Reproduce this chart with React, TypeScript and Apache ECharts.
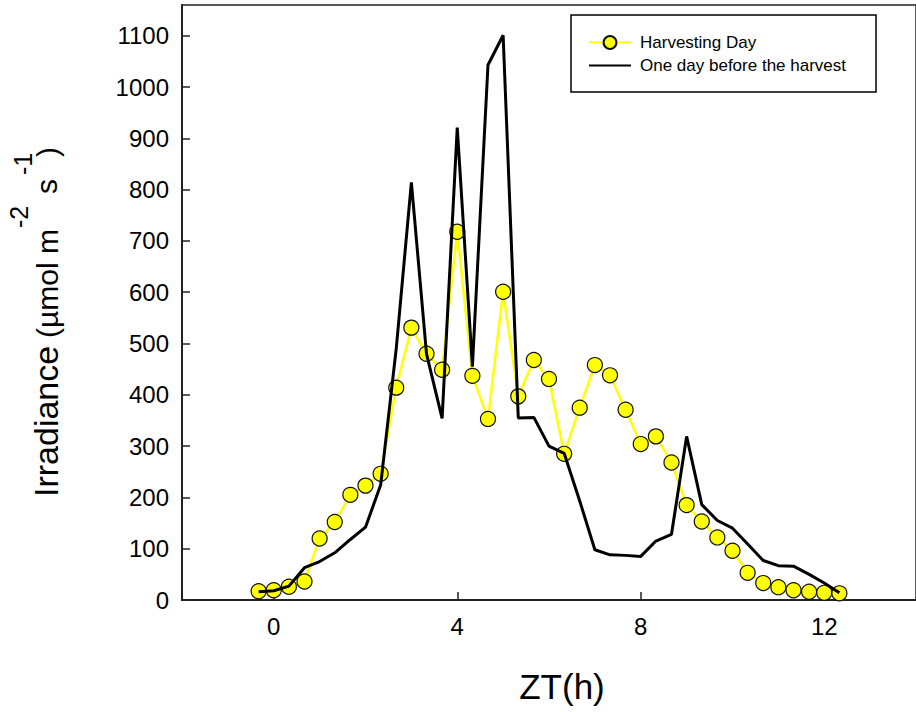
import React, { useEffect, useRef } from "react";
import * as echarts from "echarts";

const times = [
  -0.33, 0, 0.33, 0.67, 1, 1.33, 1.67, 2, 2.33, 2.67, 3, 3.33, 3.67, 4, 4.33,
  4.67, 5, 5.33, 5.67, 6, 6.33, 6.67, 7, 7.33, 7.67, 8, 8.33, 8.67, 9, 9.33,
  9.67, 10, 10.33, 10.67, 11, 11.33, 11.67, 12, 12.33,
];

const harvestingDay = [
  17, 19, 26, 36, 120, 152, 205, 223, 246, 414, 531, 480, 449, 718, 437, 353,
  601, 397, 468, 431, 285, 375, 458, 438, 371, 304, 319, 268, 185, 153, 122,
  96, 53, 33, 25, 19, 16, 14, 13,
];

const dayBefore = [
  16, 18, 27, 63, 75, 92, 118, 142, 224, 490, 814, 480, 354, 921, 455, 1043,
  1101, 355, 356, 300, 286, 193, 98, 88, 87, 85, 115, 128, 319, 186, 155, 140,
  109, 77, 67, 66, 50, 33, 14,
];

const xTicks = [0, 4, 8, 12];
const yTicks = [0, 100, 200, 300, 400, 500, 600, 700, 800, 900, 1000, 1100];

const seriesNames = ["Harvesting Day", "One day before the harvest"];

const FONT = '"Liberation Sans", Arial, Helvetica, sans-serif';

export default function App() {
  const ref = useRef<HTMLDivElement>(null);

  useEffect(() => {
    if (!ref.current) return;
    const chart = echarts.init(ref.current, undefined, { renderer: "svg" });

    const yTitle = [
      { text: "Irradiance", size: 34, x: 46, y: 497 },
      { text: "(\u00b5mol m", size: 30, x: 47.5, y: 338 },
      { text: "-2", size: 25, x: 18.5, y: 228 },
      { text: "s", size: 30, x: 46.5, y: 194 },
      { text: "-1", size: 25, x: 23, y: 175 },
      { text: ")", size: 30, x: 47.5, y: 157 },
    ];

    chart.setOption({
      animation: false,
      backgroundColor: "#ffffff",
      textStyle: { fontFamily: FONT },
      grid: {
        left: 182,
        top: 5,
        width: 736,
        height: 595,
        show: true,
        borderColor: "#222",
        borderWidth: 1.5,
        containLabel: false,
      },
      legend: {
        left: 571,
        top: 15,
        orient: "vertical",
        data: [
          { name: seriesNames[0] },
          {
            name: seriesNames[1],
            itemStyle: { opacity: 0, color: "rgba(0,0,0,0)", borderWidth: 0 },
          },
        ],
        itemWidth: 42,
        itemHeight: 16,
        itemGap: 6,
        padding: [19, 30, 18, 17],
        borderColor: "#000",
        borderWidth: 1.5,
        backgroundColor: "#fff",
        textStyle: {
          fontFamily: FONT,
          fontSize: 17,
          lineHeight: 17,
          color: "#000",
          padding: [0, 0, 0, 4],
        },
      },
      xAxis: {
        type: "value",
        min: -2,
        max: 14,
        axisLine: {
          show: true,
          onZero: false,
          lineStyle: { color: "#222", width: 2 },
        },
        axisTick: {
          show: true,
          inside: true,
          length: 8,
          customValues: xTicks,
          lineStyle: { color: "#222", width: 1.5 },
        },
        axisLabel: {
          customValues: xTicks,
          fontFamily: FONT,
          fontSize: 24,
          color: "#000",
          margin: 14,
          formatter: (v: number) => String(v),
        },
        splitLine: { show: false },
      },
      yAxis: {
        type: "value",
        min: 0,
        max: 1160,
        interval: 100,
        axisLine: {
          show: true,
          onZero: false,
          lineStyle: { color: "#222", width: 2 },
        },
        axisTick: {
          show: true,
          inside: true,
          length: 8,
          customValues: yTicks,
          lineStyle: { color: "#222", width: 1.5 },
        },
        axisLabel: {
          customValues: yTicks,
          fontFamily: FONT,
          fontSize: 24,
          color: "#000",
          margin: 13,
          formatter: (v: number) => String(v),
        },
        splitLine: { show: false },
      },
      graphic: [
        {
          type: "text",
          x: 562,
          y: 686,
          style: {
            text: "ZT(h)",
            font: `35px ${FONT}`,
            fill: "#000",
            align: "center",
            verticalAlign: "middle",
          },
        },
        ...yTitle.map((t) => ({
          type: "text",
          x: t.x,
          y: t.y,
          rotation: Math.PI / 2,
          style: {
            text: t.text,
            font: `${t.size}px ${FONT}`,
            fill: "#000",
            align: "left",
            verticalAlign: "middle",
          },
        })),
      ],
      series: [
        {
          name: seriesNames[0],
          type: "line",
          data: times.map((t, i) => [t, harvestingDay[i]]),
          z: 2,
          symbol: "circle",
          symbolSize: 15,
          showSymbol: true,
          lineStyle: { color: "#ffff00", width: 2.5 },
          itemStyle: { color: "#ffff00", borderColor: "#111", borderWidth: 1.2 },
        },
        {
          name: seriesNames[1],
          type: "line",
          data: times.map((t, i) => [t, dayBefore[i]]),
          z: 3,
          symbol: "none",
          showSymbol: false,
          lineStyle: { color: "#000", width: 3 },
          itemStyle: { color: "#000" },
        },
      ],
    });

    return () => chart.dispose();
  }, []);

  return (
    <div
      ref={ref}
      style={{ position: "fixed", left: 0, top: 0, width: 916, height: 712 }}
    />
  );
}
